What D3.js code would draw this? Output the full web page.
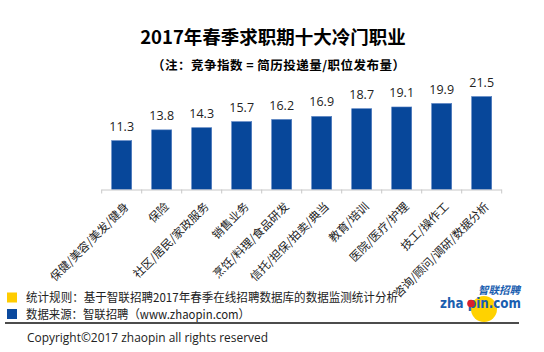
<!DOCTYPE html>
<html>
<head>
<meta charset="utf-8">
<script src="https://cdn.jsdelivr.net/npm/d3@7/dist/d3.min.js"></script>
<style>
html,body{margin:0;padding:0;background:#fff;}
svg{display:block;font-family:"Noto Sans CJK SC","Noto Sans",sans-serif;}
</style>
</head>
<body>
<svg id="chart" width="544" height="352"></svg>
<script>
const categories = ["保健/美容/美发/健身","保险","社区/居民/家政服务","销售业务","烹饪/料理/食品研发","信托/担保/拍卖/典当","教育/培训","医院/医疗/护理","技工/操作工","咨询/顾问/调研/数据分析"];
const values = [11.3,13.8,14.3,15.7,16.2,16.9,18.7,19.1,19.9,21.5];
const titleText = "2017年春季求职期十大冷门职业";
const subtitleText = "（注：竞争指数 = 简历投递量/职位发布量）";
const footnotes = ["统计规则：基于智联招聘2017年春季在线招聘数据库的数据监测统计分析","数据来源：智联招聘（www.zhaopin.com）"];
const copyrightText = "Copyright©2017 zhaopin all rights reserved";

const svg = d3.select("#chart");
const x = d3.scaleBand().domain(categories).range([101.7, 501.7]).paddingInner(0.5).paddingOuter(0.25);
const y = d3.scaleLinear().domain([0, 25]).range([189.5, 81.5]);

svg.append("text").attr("x", 273).attr("y", 43.5).attr("text-anchor","middle")
  .attr("font-size", 18.5).attr("font-weight","bold").attr("fill","#000").text(titleText);
svg.append("text").attr("x", 152).attr("y", 69.5)
  .attr("font-size", 12.5).attr("font-weight","bold").attr("fill","#000")
  .attr("textLength",253).attr("lengthAdjust","spacing").text(subtitleText);

// bars
svg.append("g").selectAll("rect").data(values).join("rect")
  .attr("x",(d,i)=>x(categories[i])).attr("width",x.bandwidth())
  .attr("y",d=>y(d)).attr("height",d=>y(0)-y(d))
  .attr("fill","#07479A").attr("stroke","#4F7BBE").attr("stroke-width",0.6);

// value labels
svg.append("g").selectAll("text").data(values).join("text")
  .attr("x",(d,i)=>x(categories[i])+x.bandwidth()/2).attr("y",d=>y(d)-10)
  .attr("text-anchor","middle").attr("font-size",12.5).attr("fill","#222")
  .attr("font-family","'Open Sans','Noto Sans',sans-serif")
  .text(d=>d.toFixed(1));

// axis
const xAxis = d3.axisBottom(x).tickSize(4).tickFormat("");
const ag = svg.append("g").attr("transform",`translate(0,${y(0)})`).call(xAxis);
ag.select(".domain").attr("stroke","#c8c8c8").attr("d","M101.7,0.5H501.7");
ag.selectAll(".tick").remove();
const bounds = d3.range(categories.length+1).map(i=>101.7+i*40);
ag.selectAll("line.b").data(bounds).join("line").attr("class","b")
  .attr("x1",d=>d).attr("x2",d=>d).attr("y1",0).attr("y2",4).attr("stroke","#c8c8c8");

// category labels
svg.append("g").selectAll("text").data(categories).join("text")
  .attr("transform",d=>`translate(${x(d)+x.bandwidth()/2+5},${y(0)+15}) rotate(-45)`)
  .attr("text-anchor","end").attr("font-size",11.5).attr("fill","#222")
  .attr("dy","0.35em").text(d=>d);

// footer
svg.append("rect").attr("x",7).attr("y",292.5).attr("width",10).attr("height",10).attr("fill","#FFCC00");
svg.append("rect").attr("x",7).attr("y",309).attr("width",10).attr("height",10).attr("fill","#0B4A9E");
const fnLen = [372, 224];
svg.selectAll("text.fn").data(footnotes).join("text").attr("class","fn")
  .attr("x",26).attr("y",(d,i)=>302+i*16.5).attr("font-size",12).attr("fill","#222")
  .attr("textLength",(d,i)=>fnLen[i]).attr("lengthAdjust","spacingAndGlyphs").text(d=>d);
svg.append("line").attr("x1",5).attr("x2",519).attr("y1",323).attr("y2",323).attr("stroke","#111").attr("stroke-width",1.5);
svg.append("text").attr("x",27).attr("y",342).attr("font-size",12.5).attr("fill","#222")
  .attr("font-family","'Open Sans','Noto Sans',sans-serif")
  .attr("textLength",241).attr("lengthAdjust","spacingAndGlyphs").text(copyrightText);

// logo
svg.append("circle").attr("cx",484).attr("cy",309).attr("r",13).attr("fill","#FFD200");
svg.append("text").attr("x",440).attr("y",308).attr("font-size",14.5).attr("font-weight","bold")
  .attr("fill","#1A5EB0").attr("font-family","'DejaVu Sans','Noto Sans',sans-serif")
  .attr("textLength",81).attr("lengthAdjust","spacingAndGlyphs").text("zha pin.com");
svg.append("circle").attr("cx",471).attr("cy",303.5).attr("r",3.8).attr("fill","#D9202A");
svg.append("text").attr("x",478).attr("y",293.5).attr("font-size",10.5).attr("font-weight","bold")
  .attr("font-style","italic").attr("fill","#1A5EB0").attr("textLength",42)
  .attr("lengthAdjust","spacingAndGlyphs").text("智联招聘");
</script>
</body>
</html>
